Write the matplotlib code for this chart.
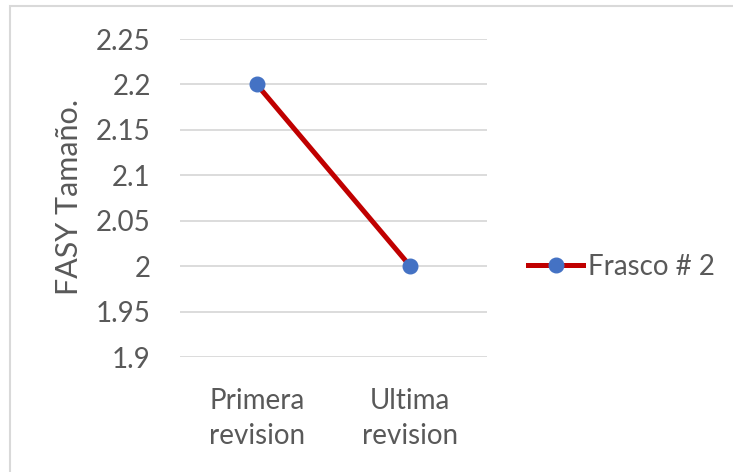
import matplotlib.pyplot as plt
from matplotlib.patches import Rectangle

categories = ["Primera\nrevision", "Ultima\nrevision"]
values = [2.2, 2.0]
series_name = "Frasco # 2"
yticks = [1.9, 1.95, 2.0, 2.05, 2.1, 2.15, 2.2, 2.25]
ytick_labels = ["1.9", "1.95", "2", "2.05", "2.1", "2.15", "2.2", "2.25"]

plt.rcParams['font.family'] = ['Lato', 'DejaVu Sans']
text_color = "#595959"

fig = plt.figure(figsize=(7.33, 4.72), dpi=100)
ax = fig.add_axes([180 / 733, 1 - 357 / 472, 307 / 733, 318 / 472])

# chart frame
fig.patches.append(Rectangle((9.5 / 733, -0.1), 1.2, 1 - 5.5 / 472 + 0.1,
                             transform=fig.transFigure, fill=False,
                             edgecolor="#D9D9D9", linewidth=1.5))

x = range(len(categories))
ax.plot(x, values, color="#C00000", linewidth=3.6, marker="o",
        markersize=10.5, markerfacecolor="#4472C4", markeredgecolor="#4472C4",
        label=series_name, zorder=3)

ax.set_xlim(-0.5, 1.5)
ax.set_ylim(1.9, 2.25)
ax.set_yticks(yticks)
ax.set_yticklabels(ytick_labels)
ax.set_xticks(list(x))
ax.set_xticklabels(categories, linespacing=1.45)
ax.tick_params(length=0, labelsize=20, colors=text_color)
ax.tick_params(axis="y", pad=21)
ax.tick_params(axis="x", pad=22)
ax.grid(axis="y", color="#D9D9D9", linewidth=1.3)
for s in ax.spines.values():
    s.set_visible(False)

ax.set_ylabel("FASY Tamaño.", fontsize=22, color=text_color)
ax.yaxis.set_label_coords(-0.316, 0.503)

fig.legend(loc="center left", bbox_to_anchor=(514 / 733, 1 - 267 / 472),
           frameon=False, fontsize=20, labelcolor=text_color,
           handlelength=2.0, handletextpad=0.15, borderpad=0)

fig.savefig("out.png", dpi=100)
